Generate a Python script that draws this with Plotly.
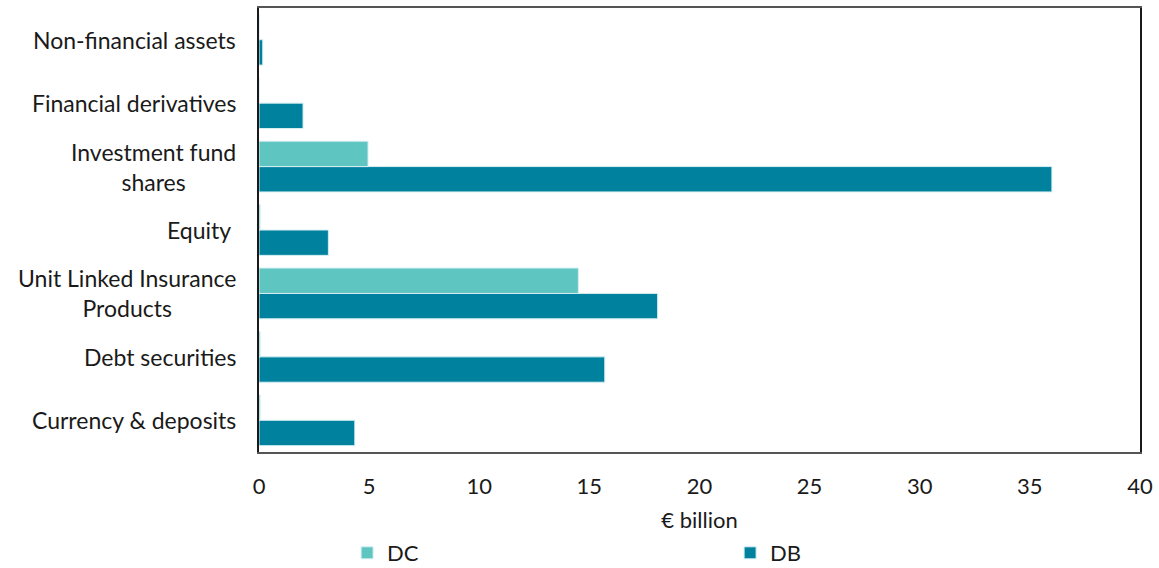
import plotly.graph_objects as go

# Asset categories, listed bottom to top
categories = [
    "Currency & deposits",
    "Debt securities",
    "Unit Linked Insurance Products",
    "Equity",
    "Investment fund shares",
    "Financial derivatives",
    "Non-financial assets",
]
# Label text as shown next to the axis (with line breaks)
category_labels = [
    "Currency & deposits",
    "Debt securities",
    "Unit Linked Insurance<br>Products",
    "Equity ",
    "Investment fund<br>shares",
    "Financial derivatives",
    "Non-financial assets",
]
# Holdings in € billion
dc_values = [0.05, 0.05, 14.5, 0.05, 4.95, 0.0, 0.0]
db_values = [4.35, 15.7, 18.1, 3.15, 36.0, 2.0, 0.17]
x_ticks = [0, 5, 10, 15, 20, 25, 30, 35, 40]

DC_COLOR = "#5FC5C0"
DB_COLOR = "#00829E"
FONT = "Lato"
TXT = "#1a1a1a"
SIZE = 22

fig = go.Figure()
# DB first so it sits below DC within each category group
fig.add_trace(go.Bar(
    y=categories, x=db_values, orientation="h", name="DB",
    marker=dict(color=DB_COLOR, line=dict(color="#d6eef2", width=1)),
    legendrank=2,
))
fig.add_trace(go.Bar(
    y=categories, x=dc_values, orientation="h", name="DC",
    marker=dict(color=DC_COLOR, line=dict(color="#d6eef2", width=1)),
    legendrank=1,
))

for cat, lab in zip(categories, category_labels):
    fig.add_annotation(
        x=-0.024, xref="paper", y=cat, yref="y",
        text=lab, showarrow=False, xanchor="right", yanchor="middle",
        align="center", font=dict(family=FONT, size=23, color=TXT),
    )

fig.update_layout(
    width=1159, height=568,
    margin=dict(l=259, r=19, t=8, b=116, autoexpand=False),
    paper_bgcolor="white", plot_bgcolor="white",
    barmode="group", bargap=0.2, bargroupgap=0,
    font=dict(family=FONT, size=SIZE, color=TXT),
    showlegend=True,
    legend=dict(
        orientation="h", x=0.100, xanchor="left", y=-0.2275, yanchor="middle",
        entrywidth=338, entrywidthmode="pixels",
        font=dict(family=FONT, size=SIZE, color=TXT),
        bgcolor="rgba(0,0,0,0)",
    ),
    xaxis=dict(
        range=[0, 40], tickvals=x_ticks, ticktext=[str(v) for v in x_ticks],
        showgrid=False, zeroline=False,
        showline=True, mirror=True, linecolor="#555555", linewidth=2,
        ticks="", ticklabelstandoff=14,
        tickfont=dict(family=FONT, size=SIZE, color=TXT),
        title=dict(text="€ billion", standoff=14,
                   font=dict(family=FONT, size=SIZE, color=TXT)),
    ),
    yaxis=dict(
        categoryorder="array", categoryarray=categories,
        showticklabels=False, ticks="", showgrid=False, zeroline=False,
        showline=True, mirror=True, linecolor="#1a1a1a", linewidth=2,
    ),
)

fig.write_html("out.html")
